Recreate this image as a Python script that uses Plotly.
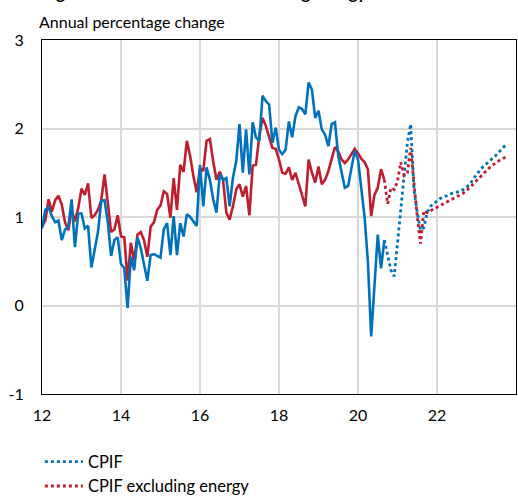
import numpy as np
import pandas as pd
import plotly.graph_objects as go

# Monthly CPIF inflation, annual % change, Jan 2012 - Sep 2020 (outturns)
cpif_outturn = [
    0.87, 1.08, 1.11, 1.01, 0.94, 0.96, 0.74, 0.86, 0.89, 1.20, 0.66, 1.04,
    1.04, 0.87, 0.90, 0.43, 0.63, 0.83, 1.18, 1.19, 0.94, 0.56, 0.74, 0.77,
    0.47, 0.42, -0.03, 0.55, 0.40, 0.77, 0.65, 0.48, 0.28, 0.57, 0.58, 0.56,
    0.54, 0.86, 0.93, 0.57, 1.01, 0.57, 0.93, 0.78, 1.03, 1.00, 0.95, 0.90,
    1.59, 1.12, 1.56, 1.42, 1.20, 1.05, 1.48, 1.42, 1.44, 1.12, 1.44, 1.63,
    2.05, 1.50, 1.99, 1.48, 2.07, 1.90, 1.86, 2.37, 2.31, 2.27, 1.84, 2.01,
    1.76, 1.71, 1.76, 2.08, 1.90, 2.14, 2.24, 2.22, 2.16, 2.52, 2.44, 2.12,
    2.20, 1.99, 1.93, 1.80, 2.05, 2.07, 1.69, 1.52, 1.33, 1.35, 1.54, 1.75,
    1.65, 1.30, 1.00, 0.50, -0.35, 0.22, 0.80, 0.42, 0.74,
]
cpif_ex_energy_outturn = [
    0.89, 0.96, 1.20, 1.06, 1.19, 1.24, 1.14, 0.94, 0.85, 1.08, 0.95, 1.10,
    1.32, 1.25, 1.38, 0.99, 1.02, 1.08, 1.19, 1.48, 1.16, 0.83, 0.86, 1.02,
    0.78, 0.77, 0.28, 0.71, 0.50, 0.80, 0.83, 0.74, 0.55, 0.89, 0.94, 1.08,
    1.13, 1.29, 1.26, 0.99, 1.44, 1.08, 1.59, 1.51, 1.86, 1.69, 1.46, 1.28,
    1.55, 1.52, 1.86, 1.88, 1.63, 1.42, 1.51, 1.42, 1.05, 0.97, 1.12, 1.31,
    1.37, 1.23, 1.35, 1.02, 1.58, 1.59, 1.91, 2.12, 2.03, 1.91, 1.78, 1.77,
    1.65, 1.50, 1.49, 1.56, 1.42, 1.50, 1.37, 1.25, 1.12, 1.65, 1.50, 1.39,
    1.57, 1.37, 1.42, 1.52, 1.67, 1.79, 1.74, 1.65, 1.61, 1.65, 1.71, 1.77,
    1.72, 1.66, 1.62, 1.54, 1.01, 1.25, 1.33, 1.54, 1.42,
]

# Projections, Sep 2020 - Oct 2023 (first value repeats the last outturn)
cpif_projection = [
    0.74, 0.55, 0.40, 0.33, 0.70, 1.08, 1.46, 1.84, 2.05, 1.31, 1.05, 0.85,
    0.88, 1.05, 1.12, 1.15, 1.19, 1.21, 1.23, 1.24, 1.26, 1.27, 1.28, 1.29,
    1.31, 1.34, 1.37, 1.43, 1.48, 1.53, 1.57, 1.60, 1.63, 1.66, 1.70, 1.74,
    1.78, 1.82,
]
cpif_ex_energy_projection = [
    1.42, 1.15, 1.33, 1.31, 1.40, 1.62, 1.47, 1.50, 1.78, 1.35, 1.00, 0.70,
    1.07, 1.05, 1.07, 1.09, 1.11, 1.13, 1.15, 1.17, 1.19, 1.21, 1.23, 1.25,
    1.27, 1.30, 1.33, 1.37, 1.41, 1.45, 1.49, 1.53, 1.56, 1.59, 1.62, 1.64,
    1.66, 1.68,
]

x_tick_values = [12, 14, 16, 18, 20, 22]
x_tick_labels = ["12", "14", "16", "18", "20", "22"]
y_tick_values = [-1, 0, 1, 2, 3]
y_tick_labels = ["-1", "0", "1", "2", "3"]

series_names = ["CPIF", "CPIF excluding energy"]
BLUE = "#0072BC"
RED = "#BE1E2D"
FONT = "Lato, 'Open Sans', sans-serif"


def decimal_years(start, periods):
    dates = pd.date_range(start, periods=periods, freq="MS")
    return (dates.year - 2000) + (dates.month - 1) / 12.0


x_out = decimal_years("2012-01-01", len(cpif_outturn))
x_proj = decimal_years("2020-09-01", len(cpif_projection))

fig = go.Figure()

fig.add_trace(go.Scatter(x=x_out, y=cpif_ex_energy_outturn, mode="lines",
                         line=dict(color=RED, width=2.6), showlegend=False,
                         hoverinfo="skip"))
fig.add_trace(go.Scatter(x=x_out, y=cpif_outturn, mode="lines",
                         line=dict(color=BLUE, width=2.6), showlegend=False,
                         hoverinfo="skip"))
fig.add_trace(go.Scatter(x=x_proj, y=cpif_projection, mode="lines",
                         name=series_names[0],
                         line=dict(color=BLUE, width=2.8, dash="dot")))
fig.add_trace(go.Scatter(x=x_proj, y=cpif_ex_energy_projection, mode="lines",
                         name=series_names[1],
                         line=dict(color=RED, width=2.8, dash="dot")))

axis_common = dict(
    showgrid=True, gridcolor="#D9D9D9", gridwidth=1.5,
    showline=True, linecolor="#000000", linewidth=1.2, mirror=True,
    zeroline=False, ticks="", tickfont=dict(family=FONT, size=16, color="#000"),
)

fig.update_xaxes(range=[12, 24], tickvals=x_tick_values, ticktext=x_tick_labels,
                 ticklabelstandoff=7, **axis_common)
fig.update_yaxes(range=[-1, 3], tickvals=y_tick_values, ticktext=y_tick_labels,
                 ticklabelstandoff=14, **axis_common)

fig.update_layout(
    width=518, height=497,
    margin=dict(l=42, r=2, t=40, b=103, autoexpand=False),
    paper_bgcolor="white", plot_bgcolor="white",
    font=dict(family=FONT, size=15, color="#000"),
    legend=dict(x=0.077, xref="container", xanchor="left",
                y=0.106, yref="container", yanchor="top",
                itemwidth=38,
                font=dict(family=FONT, size=16.5, color="#000"),
                tracegroupgap=0, bgcolor="rgba(0,0,0,0)"),
    annotations=[
        dict(text="<b>Figure 3.1: CPIF and CPIF excluding energy</b>",
             xref="paper", yref="paper", x=-0.005, y=1.098,
             xanchor="left", yanchor="bottom", showarrow=False,
             font=dict(family=FONT, size=17, color="#000")),
        dict(text="Annual percentage change", xref="paper", yref="paper",
             x=-0.01, y=1.02, xanchor="left", yanchor="bottom",
             showarrow=False, font=dict(family=FONT, size=16, color="#000")),
    ],
)

fig.write_html("out.html")
